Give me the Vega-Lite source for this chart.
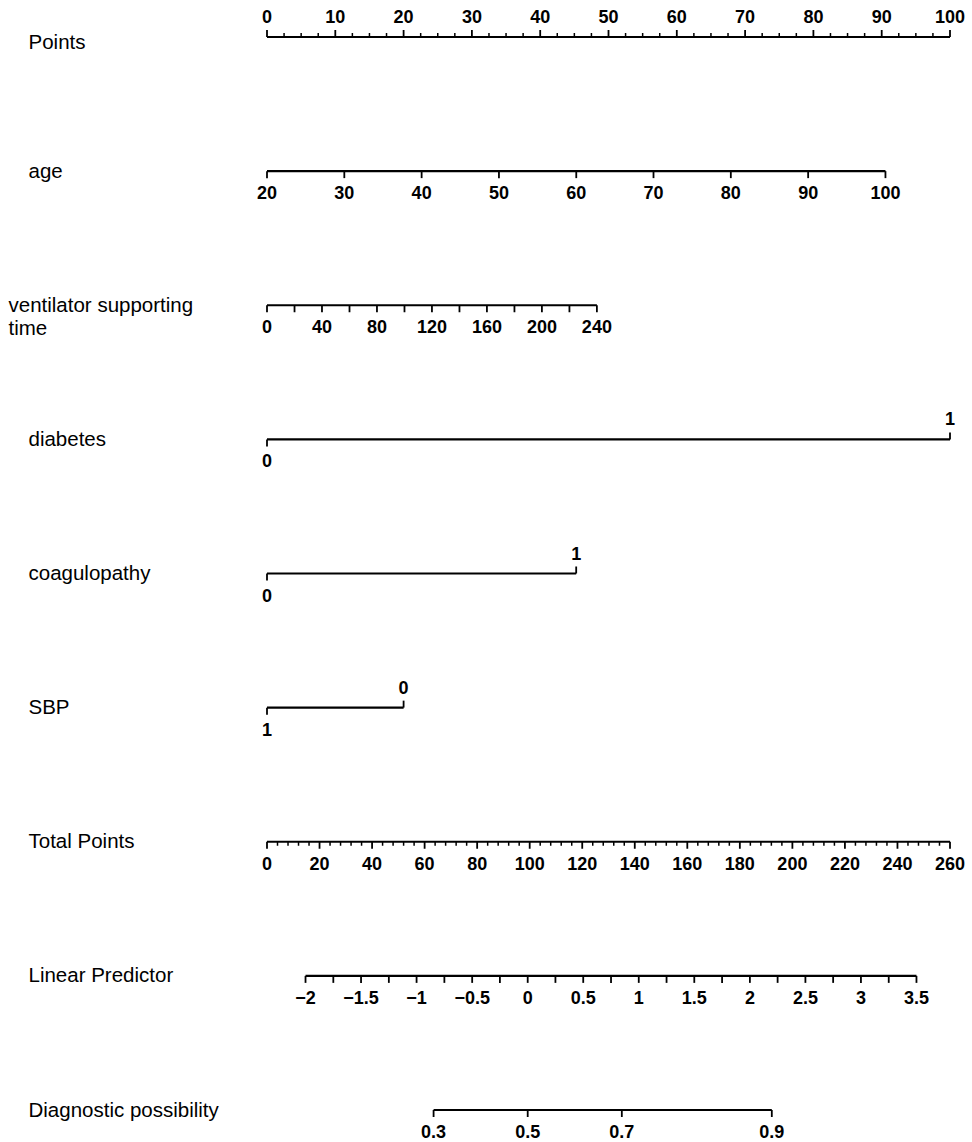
{
  "$schema": "https://vega.github.io/schema/vega-lite/v6.json",
  "width": 683,
  "height": 1073,
  "autosize": {"type": "none"},
  "padding": {"left": 267, "top": 37, "right": 22, "bottom": 32},
  "background": "white",
  "config": {"view": {"stroke": null}},
  "datasets": {
    "lines": [
      {"row": "Points", "x1": 0, "x2": 100},
      {"row": "age", "x1": 0, "x2": 90.55},
      {"row": "ventilator supporting time", "x1": 0, "x2": 48.3},
      {"row": "diabetes", "x1": 0, "x2": 100},
      {"row": "coagulopathy", "x1": 0, "x2": 45.27},
      {"row": "SBP", "x1": 0, "x2": 20},
      {"row": "Total Points", "x1": 0, "x2": 100},
      {"row": "Linear Predictor", "x1": 5.64, "x2": 95.09},
      {"row": "Diagnostic possibility", "x1": 24.39, "x2": 73.91}
    ],
    "ticks": [
      {"row": "Points", "pts": 0, "kind": "upM"},
      {"row": "Points", "pts": 2.5, "kind": "upm"},
      {"row": "Points", "pts": 5, "kind": "upm"},
      {"row": "Points", "pts": 7.5, "kind": "upm"},
      {"row": "Points", "pts": 10, "kind": "upM"},
      {"row": "Points", "pts": 12.5, "kind": "upm"},
      {"row": "Points", "pts": 15, "kind": "upm"},
      {"row": "Points", "pts": 17.5, "kind": "upm"},
      {"row": "Points", "pts": 20, "kind": "upM"},
      {"row": "Points", "pts": 22.5, "kind": "upm"},
      {"row": "Points", "pts": 25, "kind": "upm"},
      {"row": "Points", "pts": 27.5, "kind": "upm"},
      {"row": "Points", "pts": 30, "kind": "upM"},
      {"row": "Points", "pts": 32.5, "kind": "upm"},
      {"row": "Points", "pts": 35, "kind": "upm"},
      {"row": "Points", "pts": 37.5, "kind": "upm"},
      {"row": "Points", "pts": 40, "kind": "upM"},
      {"row": "Points", "pts": 42.5, "kind": "upm"},
      {"row": "Points", "pts": 45, "kind": "upm"},
      {"row": "Points", "pts": 47.5, "kind": "upm"},
      {"row": "Points", "pts": 50, "kind": "upM"},
      {"row": "Points", "pts": 52.5, "kind": "upm"},
      {"row": "Points", "pts": 55, "kind": "upm"},
      {"row": "Points", "pts": 57.5, "kind": "upm"},
      {"row": "Points", "pts": 60, "kind": "upM"},
      {"row": "Points", "pts": 62.5, "kind": "upm"},
      {"row": "Points", "pts": 65, "kind": "upm"},
      {"row": "Points", "pts": 67.5, "kind": "upm"},
      {"row": "Points", "pts": 70, "kind": "upM"},
      {"row": "Points", "pts": 72.5, "kind": "upm"},
      {"row": "Points", "pts": 75, "kind": "upm"},
      {"row": "Points", "pts": 77.5, "kind": "upm"},
      {"row": "Points", "pts": 80, "kind": "upM"},
      {"row": "Points", "pts": 82.5, "kind": "upm"},
      {"row": "Points", "pts": 85, "kind": "upm"},
      {"row": "Points", "pts": 87.5, "kind": "upm"},
      {"row": "Points", "pts": 90, "kind": "upM"},
      {"row": "Points", "pts": 92.5, "kind": "upm"},
      {"row": "Points", "pts": 95, "kind": "upm"},
      {"row": "Points", "pts": 97.5, "kind": "upm"},
      {"row": "Points", "pts": 100, "kind": "upM"},
      {"row": "age", "pts": 0, "kind": "downM"},
      {"row": "age", "pts": 11.32, "kind": "downM"},
      {"row": "age", "pts": 22.64, "kind": "downM"},
      {"row": "age", "pts": 33.96, "kind": "downM"},
      {"row": "age", "pts": 45.28, "kind": "downM"},
      {"row": "age", "pts": 56.59, "kind": "downM"},
      {"row": "age", "pts": 67.91, "kind": "downM"},
      {"row": "age", "pts": 79.23, "kind": "downM"},
      {"row": "age", "pts": 90.55, "kind": "downM"},
      {"row": "ventilator supporting time", "pts": 0, "kind": "downM"},
      {"row": "ventilator supporting time", "pts": 4.03, "kind": "downM"},
      {"row": "ventilator supporting time", "pts": 8.05, "kind": "downM"},
      {"row": "ventilator supporting time", "pts": 12.08, "kind": "downM"},
      {"row": "ventilator supporting time", "pts": 16.1, "kind": "downM"},
      {"row": "ventilator supporting time", "pts": 20.13, "kind": "downM"},
      {"row": "ventilator supporting time", "pts": 24.15, "kind": "downM"},
      {"row": "ventilator supporting time", "pts": 28.18, "kind": "downM"},
      {"row": "ventilator supporting time", "pts": 32.2, "kind": "downM"},
      {"row": "ventilator supporting time", "pts": 36.23, "kind": "downM"},
      {"row": "ventilator supporting time", "pts": 40.25, "kind": "downM"},
      {"row": "ventilator supporting time", "pts": 44.28, "kind": "downM"},
      {"row": "ventilator supporting time", "pts": 48.3, "kind": "downM"},
      {"row": "diabetes", "pts": 0, "kind": "downM"},
      {"row": "diabetes", "pts": 100, "kind": "upM"},
      {"row": "coagulopathy", "pts": 0, "kind": "downM"},
      {"row": "coagulopathy", "pts": 45.27, "kind": "upM"},
      {"row": "SBP", "pts": 0, "kind": "downM"},
      {"row": "SBP", "pts": 20, "kind": "upM"},
      {"row": "Total Points", "pts": 0, "kind": "downM"},
      {"row": "Total Points", "pts": 1.538, "kind": "downm"},
      {"row": "Total Points", "pts": 3.077, "kind": "downm"},
      {"row": "Total Points", "pts": 4.615, "kind": "downm"},
      {"row": "Total Points", "pts": 6.154, "kind": "downm"},
      {"row": "Total Points", "pts": 7.692, "kind": "downM"},
      {"row": "Total Points", "pts": 9.231, "kind": "downm"},
      {"row": "Total Points", "pts": 10.769, "kind": "downm"},
      {"row": "Total Points", "pts": 12.308, "kind": "downm"},
      {"row": "Total Points", "pts": 13.846, "kind": "downm"},
      {"row": "Total Points", "pts": 15.385, "kind": "downM"},
      {"row": "Total Points", "pts": 16.923, "kind": "downm"},
      {"row": "Total Points", "pts": 18.462, "kind": "downm"},
      {"row": "Total Points", "pts": 20.0, "kind": "downm"},
      {"row": "Total Points", "pts": 21.538, "kind": "downm"},
      {"row": "Total Points", "pts": 23.077, "kind": "downM"},
      {"row": "Total Points", "pts": 24.615, "kind": "downm"},
      {"row": "Total Points", "pts": 26.154, "kind": "downm"},
      {"row": "Total Points", "pts": 27.692, "kind": "downm"},
      {"row": "Total Points", "pts": 29.231, "kind": "downm"},
      {"row": "Total Points", "pts": 30.769, "kind": "downM"},
      {"row": "Total Points", "pts": 32.308, "kind": "downm"},
      {"row": "Total Points", "pts": 33.846, "kind": "downm"},
      {"row": "Total Points", "pts": 35.385, "kind": "downm"},
      {"row": "Total Points", "pts": 36.923, "kind": "downm"},
      {"row": "Total Points", "pts": 38.462, "kind": "downM"},
      {"row": "Total Points", "pts": 40.0, "kind": "downm"},
      {"row": "Total Points", "pts": 41.538, "kind": "downm"},
      {"row": "Total Points", "pts": 43.077, "kind": "downm"},
      {"row": "Total Points", "pts": 44.615, "kind": "downm"},
      {"row": "Total Points", "pts": 46.154, "kind": "downM"},
      {"row": "Total Points", "pts": 47.692, "kind": "downm"},
      {"row": "Total Points", "pts": 49.231, "kind": "downm"},
      {"row": "Total Points", "pts": 50.769, "kind": "downm"},
      {"row": "Total Points", "pts": 52.308, "kind": "downm"},
      {"row": "Total Points", "pts": 53.846, "kind": "downM"},
      {"row": "Total Points", "pts": 55.385, "kind": "downm"},
      {"row": "Total Points", "pts": 56.923, "kind": "downm"},
      {"row": "Total Points", "pts": 58.462, "kind": "downm"},
      {"row": "Total Points", "pts": 60.0, "kind": "downm"},
      {"row": "Total Points", "pts": 61.538, "kind": "downM"},
      {"row": "Total Points", "pts": 63.077, "kind": "downm"},
      {"row": "Total Points", "pts": 64.615, "kind": "downm"},
      {"row": "Total Points", "pts": 66.154, "kind": "downm"},
      {"row": "Total Points", "pts": 67.692, "kind": "downm"},
      {"row": "Total Points", "pts": 69.231, "kind": "downM"},
      {"row": "Total Points", "pts": 70.769, "kind": "downm"},
      {"row": "Total Points", "pts": 72.308, "kind": "downm"},
      {"row": "Total Points", "pts": 73.846, "kind": "downm"},
      {"row": "Total Points", "pts": 75.385, "kind": "downm"},
      {"row": "Total Points", "pts": 76.923, "kind": "downM"},
      {"row": "Total Points", "pts": 78.462, "kind": "downm"},
      {"row": "Total Points", "pts": 80.0, "kind": "downm"},
      {"row": "Total Points", "pts": 81.538, "kind": "downm"},
      {"row": "Total Points", "pts": 83.077, "kind": "downm"},
      {"row": "Total Points", "pts": 84.615, "kind": "downM"},
      {"row": "Total Points", "pts": 86.154, "kind": "downm"},
      {"row": "Total Points", "pts": 87.692, "kind": "downm"},
      {"row": "Total Points", "pts": 89.231, "kind": "downm"},
      {"row": "Total Points", "pts": 90.769, "kind": "downm"},
      {"row": "Total Points", "pts": 92.308, "kind": "downM"},
      {"row": "Total Points", "pts": 93.846, "kind": "downm"},
      {"row": "Total Points", "pts": 95.385, "kind": "downm"},
      {"row": "Total Points", "pts": 96.923, "kind": "downm"},
      {"row": "Total Points", "pts": 98.462, "kind": "downm"},
      {"row": "Total Points", "pts": 100, "kind": "downM"},
      {"row": "Linear Predictor", "pts": 5.64, "kind": "downM"},
      {"row": "Linear Predictor", "pts": 9.71, "kind": "downM"},
      {"row": "Linear Predictor", "pts": 13.77, "kind": "downM"},
      {"row": "Linear Predictor", "pts": 17.84, "kind": "downM"},
      {"row": "Linear Predictor", "pts": 21.9, "kind": "downM"},
      {"row": "Linear Predictor", "pts": 25.97, "kind": "downM"},
      {"row": "Linear Predictor", "pts": 30.04, "kind": "downM"},
      {"row": "Linear Predictor", "pts": 34.1, "kind": "downM"},
      {"row": "Linear Predictor", "pts": 38.17, "kind": "downM"},
      {"row": "Linear Predictor", "pts": 42.23, "kind": "downM"},
      {"row": "Linear Predictor", "pts": 46.3, "kind": "downM"},
      {"row": "Linear Predictor", "pts": 50.37, "kind": "downM"},
      {"row": "Linear Predictor", "pts": 54.43, "kind": "downM"},
      {"row": "Linear Predictor", "pts": 58.5, "kind": "downM"},
      {"row": "Linear Predictor", "pts": 62.56, "kind": "downM"},
      {"row": "Linear Predictor", "pts": 66.63, "kind": "downM"},
      {"row": "Linear Predictor", "pts": 70.7, "kind": "downM"},
      {"row": "Linear Predictor", "pts": 74.76, "kind": "downM"},
      {"row": "Linear Predictor", "pts": 78.83, "kind": "downM"},
      {"row": "Linear Predictor", "pts": 82.89, "kind": "downM"},
      {"row": "Linear Predictor", "pts": 86.96, "kind": "downM"},
      {"row": "Linear Predictor", "pts": 91.03, "kind": "downM"},
      {"row": "Linear Predictor", "pts": 95.09, "kind": "downM"},
      {"row": "Diagnostic possibility", "pts": 24.39, "kind": "downM"},
      {"row": "Diagnostic possibility", "pts": 38.17, "kind": "downM"},
      {"row": "Diagnostic possibility", "pts": 51.95, "kind": "downM"},
      {"row": "Diagnostic possibility", "pts": 73.91, "kind": "downM"}
    ],
    "labels": [
      {"row": "Points", "pts": 0, "text": "0", "pos": "above"},
      {"row": "Points", "pts": 10, "text": "10", "pos": "above"},
      {"row": "Points", "pts": 20, "text": "20", "pos": "above"},
      {"row": "Points", "pts": 30, "text": "30", "pos": "above"},
      {"row": "Points", "pts": 40, "text": "40", "pos": "above"},
      {"row": "Points", "pts": 50, "text": "50", "pos": "above"},
      {"row": "Points", "pts": 60, "text": "60", "pos": "above"},
      {"row": "Points", "pts": 70, "text": "70", "pos": "above"},
      {"row": "Points", "pts": 80, "text": "80", "pos": "above"},
      {"row": "Points", "pts": 90, "text": "90", "pos": "above"},
      {"row": "Points", "pts": 100, "text": "100", "pos": "above"},
      {"row": "age", "pts": 0, "text": "20", "pos": "below"},
      {"row": "age", "pts": 11.32, "text": "30", "pos": "below"},
      {"row": "age", "pts": 22.64, "text": "40", "pos": "below"},
      {"row": "age", "pts": 33.96, "text": "50", "pos": "below"},
      {"row": "age", "pts": 45.28, "text": "60", "pos": "below"},
      {"row": "age", "pts": 56.59, "text": "70", "pos": "below"},
      {"row": "age", "pts": 67.91, "text": "80", "pos": "below"},
      {"row": "age", "pts": 79.23, "text": "90", "pos": "below"},
      {"row": "age", "pts": 90.55, "text": "100", "pos": "below"},
      {"row": "ventilator supporting time", "pts": 0, "text": "0", "pos": "below"},
      {"row": "ventilator supporting time", "pts": 8.05, "text": "40", "pos": "below"},
      {"row": "ventilator supporting time", "pts": 16.1, "text": "80", "pos": "below"},
      {"row": "ventilator supporting time", "pts": 24.15, "text": "120", "pos": "below"},
      {"row": "ventilator supporting time", "pts": 32.2, "text": "160", "pos": "below"},
      {"row": "ventilator supporting time", "pts": 40.25, "text": "200", "pos": "below"},
      {"row": "ventilator supporting time", "pts": 48.3, "text": "240", "pos": "below"},
      {"row": "diabetes", "pts": 0, "text": "0", "pos": "below"},
      {"row": "diabetes", "pts": 100, "text": "1", "pos": "above"},
      {"row": "coagulopathy", "pts": 0, "text": "0", "pos": "below"},
      {"row": "coagulopathy", "pts": 45.27, "text": "1", "pos": "above"},
      {"row": "SBP", "pts": 0, "text": "1", "pos": "below"},
      {"row": "SBP", "pts": 20, "text": "0", "pos": "above"},
      {"row": "Total Points", "pts": 0, "text": "0", "pos": "below"},
      {"row": "Total Points", "pts": 7.692, "text": "20", "pos": "below"},
      {"row": "Total Points", "pts": 15.385, "text": "40", "pos": "below"},
      {"row": "Total Points", "pts": 23.077, "text": "60", "pos": "below"},
      {"row": "Total Points", "pts": 30.769, "text": "80", "pos": "below"},
      {"row": "Total Points", "pts": 38.462, "text": "100", "pos": "below"},
      {"row": "Total Points", "pts": 46.154, "text": "120", "pos": "below"},
      {"row": "Total Points", "pts": 53.846, "text": "140", "pos": "below"},
      {"row": "Total Points", "pts": 61.538, "text": "160", "pos": "below"},
      {"row": "Total Points", "pts": 69.231, "text": "180", "pos": "below"},
      {"row": "Total Points", "pts": 76.923, "text": "200", "pos": "below"},
      {"row": "Total Points", "pts": 84.615, "text": "220", "pos": "below"},
      {"row": "Total Points", "pts": 92.308, "text": "240", "pos": "below"},
      {"row": "Total Points", "pts": 100, "text": "260", "pos": "below"},
      {"row": "Linear Predictor", "pts": 5.64, "text": "−2", "pos": "below"},
      {"row": "Linear Predictor", "pts": 13.77, "text": "−1.5", "pos": "below"},
      {"row": "Linear Predictor", "pts": 21.9, "text": "−1", "pos": "below"},
      {"row": "Linear Predictor", "pts": 30.04, "text": "−0.5", "pos": "below"},
      {"row": "Linear Predictor", "pts": 38.17, "text": "0", "pos": "below"},
      {"row": "Linear Predictor", "pts": 46.3, "text": "0.5", "pos": "below"},
      {"row": "Linear Predictor", "pts": 54.43, "text": "1", "pos": "below"},
      {"row": "Linear Predictor", "pts": 62.56, "text": "1.5", "pos": "below"},
      {"row": "Linear Predictor", "pts": 70.7, "text": "2", "pos": "below"},
      {"row": "Linear Predictor", "pts": 78.83, "text": "2.5", "pos": "below"},
      {"row": "Linear Predictor", "pts": 86.96, "text": "3", "pos": "below"},
      {"row": "Linear Predictor", "pts": 95.09, "text": "3.5", "pos": "below"},
      {"row": "Diagnostic possibility", "pts": 24.39, "text": "0.3", "pos": "below"},
      {"row": "Diagnostic possibility", "pts": 38.17, "text": "0.5", "pos": "below"},
      {"row": "Diagnostic possibility", "pts": 51.95, "text": "0.7", "pos": "below"},
      {"row": "Diagnostic possibility", "pts": 73.91, "text": "0.9", "pos": "below"}
    ]
  },
  "encoding": {
    "y": {
      "field": "row",
      "type": "nominal",
      "scale": {
        "type": "point",
        "padding": 0,
        "domain": ["Points", "age", "ventilator supporting time", "diabetes", "coagulopathy", "SBP", "Total Points", "Linear Predictor", "Diagnostic possibility"]
      },
      "axis": {
        "title": null,
        "domain": false,
        "ticks": false,
        "tickSize": 0,
        "labelAlign": "left",
        "labelBaseline": "middle",
        "labelPadding": {"condition": {"test": "datum.value === 'ventilator supporting time'", "value": 259}, "value": 239},
        "labelOffset": {"condition": {"test": "datum.value === 'Points'", "value": 5}, "value": 0},
        "labelFont": "Liberation Sans",
        "labelFontSize": 20.5,
        "labelColor": "#000000",
        "labelLineHeight": 23,
        "labelLimit": 0,
        "labelExpr": "datum.value === 'ventilator supporting time' ? ['ventilator supporting', 'time'] : datum.value"
      }
    }
  },
  "layer": [
    {
      "data": {"name": "lines"},
      "mark": {"type": "rule", "strokeWidth": 2.2, "color": "#000000"},
      "encoding": {
        "x": {"field": "x1", "type": "quantitative", "scale": {"domain": [0, 100], "nice": false, "zero": false}, "axis": null},
        "x2": {"field": "x2"}
      }
    },
    {
      "data": {"name": "ticks"},
      "transform": [{"filter": "datum.kind === 'upM'"}],
      "mark": {"type": "rule", "strokeWidth": 1.8, "color": "#000000", "y2Offset": -7},
      "encoding": {
        "x": {"field": "pts", "type": "quantitative"},
        "y2": {"field": "row"}
      }
    },
    {
      "data": {"name": "ticks"},
      "transform": [{"filter": "datum.kind === 'upm'"}],
      "mark": {"type": "rule", "strokeWidth": 1.5, "color": "#000000", "y2Offset": -4},
      "encoding": {
        "x": {"field": "pts", "type": "quantitative"},
        "y2": {"field": "row"}
      }
    },
    {
      "data": {"name": "ticks"},
      "transform": [{"filter": "datum.kind === 'downM'"}],
      "mark": {"type": "rule", "strokeWidth": 1.8, "color": "#000000", "y2Offset": 7},
      "encoding": {
        "x": {"field": "pts", "type": "quantitative"},
        "y2": {"field": "row"}
      }
    },
    {
      "data": {"name": "ticks"},
      "transform": [{"filter": "datum.kind === 'downm'"}],
      "mark": {"type": "rule", "strokeWidth": 1.5, "color": "#000000", "y2Offset": 4},
      "encoding": {
        "x": {"field": "pts", "type": "quantitative"},
        "y2": {"field": "row"}
      }
    },
    {
      "data": {"name": "labels"},
      "transform": [{"filter": "datum.pos === 'above'"}],
      "mark": {"type": "text", "font": "Liberation Sans", "fontWeight": "bold", "fontSize": 18, "color": "#000000", "baseline": "middle", "align": "center", "dy": -19},
      "encoding": {
        "x": {"field": "pts", "type": "quantitative"},
        "text": {"field": "text"}
      }
    },
    {
      "data": {"name": "labels"},
      "transform": [{"filter": "datum.pos === 'below'"}],
      "mark": {"type": "text", "font": "Liberation Sans", "fontWeight": "bold", "fontSize": 18, "color": "#000000", "baseline": "middle", "align": "center", "dy": 23},
      "encoding": {
        "x": {"field": "pts", "type": "quantitative"},
        "text": {"field": "text"}
      }
    }
  ]
}
